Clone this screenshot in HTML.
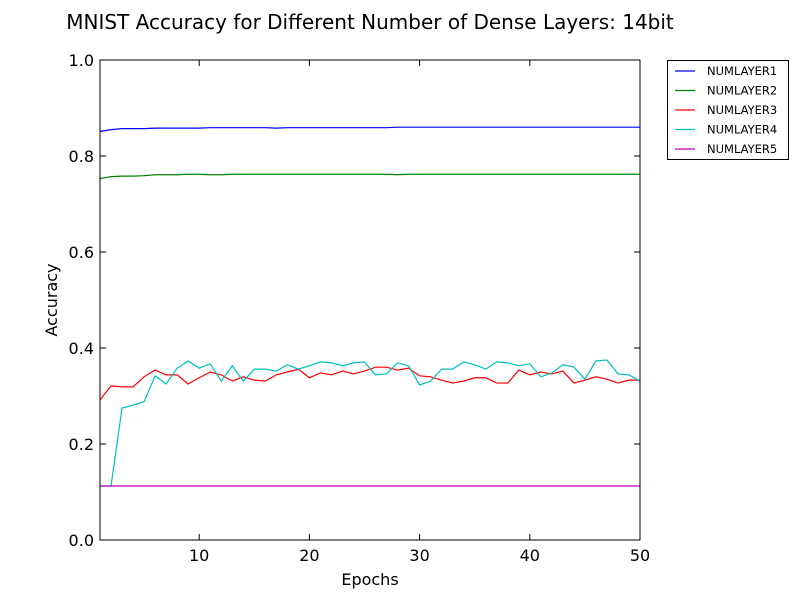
<!DOCTYPE html>
<html><head><meta charset="utf-8"><style>
body{margin:0;background:#fff;}
svg text{font-family:"DejaVu Sans","Liberation Sans",sans-serif;}
</style></head><body>
<svg id="c" width="800" height="600" viewBox="0 0 800 600">
<rect width="800" height="600" fill="#fff"/>
<text x="370" y="29" font-size="20" text-anchor="middle">MNIST Accuracy for Different Number of Dense Layers: 14bit</text>
<g id="plot"></g>
<text x="370" y="585" font-size="16" text-anchor="middle">Epochs</text>
<text x="57" y="300" font-size="16" text-anchor="middle" transform="rotate(-90 57 300)">Accuracy</text>
<g id="legend">
<rect x="667.5" y="60.5" width="121" height="99" fill="#fff" stroke="#000"/>
</g>
</svg>
<script>
const epochs = Array.from({length:50},(_,i)=>i+1);
const layer1 = [0.851,0.855,0.857,0.857,0.857,0.858,0.858,0.858,0.858,0.858,0.859,0.859,0.859,0.859,0.859,0.859,0.858,0.859,0.859,0.859,0.859,0.859,0.859,0.859,0.859,0.859,0.859,0.86,0.86,0.86,0.86,0.86,0.86,0.86,0.86,0.86,0.86,0.86,0.86,0.86,0.86,0.86,0.86,0.86,0.86,0.86,0.86,0.86,0.86,0.86];
const layer2 = [0.753,0.757,0.758,0.758,0.759,0.761,0.761,0.761,0.762,0.762,0.761,0.761,0.762,0.762,0.762,0.762,0.762,0.762,0.762,0.762,0.762,0.762,0.762,0.762,0.762,0.762,0.762,0.761,0.762,0.762,0.762,0.762,0.762,0.762,0.762,0.762,0.762,0.762,0.762,0.762,0.762,0.762,0.762,0.762,0.762,0.762,0.762,0.762,0.762,0.762];
const layer3 = [0.292,0.321,0.319,0.319,0.340,0.354,0.344,0.344,0.325,0.338,0.350,0.344,0.331,0.340,0.333,0.331,0.344,0.350,0.356,0.338,0.348,0.344,0.352,0.346,0.352,0.360,0.360,0.354,0.358,0.342,0.340,0.333,0.327,0.331,0.338,0.338,0.327,0.327,0.354,0.344,0.350,0.346,0.352,0.327,0.333,0.340,0.335,0.327,0.333,0.333];
const layer4 = [0.1125,0.1125,0.275,0.281,0.288,0.342,0.325,0.358,0.373,0.358,0.367,0.331,0.363,0.331,0.356,0.356,0.352,0.365,0.356,0.363,0.371,0.369,0.363,0.369,0.371,0.344,0.346,0.369,0.363,0.323,0.331,0.356,0.356,0.371,0.365,0.356,0.371,0.369,0.363,0.367,0.340,0.348,0.365,0.360,0.335,0.373,0.375,0.346,0.344,0.331];
const layer5 = Array(50).fill(0.1125);
const seriesNames = ["NUMLAYER1","NUMLAYER2","NUMLAYER3","NUMLAYER4","NUMLAYER5"];
const xTicks = [10,20,30,40,50];
const yTicks = [0.0,0.2,0.4,0.6,0.8,1.0];

const L=100,R=640,T=60,B=540;
const xs=e=>L+(e-1)/49*(R-L);
const ys=v=>B-v*(B-T);
const NS="http://www.w3.org/2000/svg";
const plot=document.getElementById('plot');
function mk(tag,attrs,parent){const el=document.createElementNS(NS,tag);for(const k in attrs)el.setAttribute(k,attrs[k]);(parent||plot).appendChild(el);return el;}
const colors=["#0000ff","#008000","#ff0000","#00bfbf","#bf00bf"];
const data=[layer1,layer2,layer3,layer4,layer5];
data.forEach((s,i)=>{
  const p=mk('polyline',{points:s.map((v,j)=>xs(epochs[j])+','+ys(v)).join(' '),fill:'none',stroke:colors[i],'stroke-width':1.2});
  
  
});
const frame=mk('rect',{x:L,y:T,width:R-L,height:B-T,fill:'none',stroke:'#000'});


xTicks.forEach(t=>{
  const x=xs(t);
  mk('line',{x1:x,x2:x,y1:B,y2:B-6,stroke:'#000'});
  mk('line',{x1:x,x2:x,y1:T,y2:T+6,stroke:'#000'});
  const tx=mk('text',{x:x,y:B+21,'font-size':16,'text-anchor':'middle'});
  tx.textContent=t;
  
  
});
yTicks.forEach(t=>{
  const y=ys(t);
  mk('line',{x1:L,x2:L+6,y1:y,y2:y,stroke:'#000'});
  mk('line',{x1:R,x2:R-6,y1:y,y2:y,stroke:'#000'});
  const tx=mk('text',{x:L-6,y:y+6,'font-size':16,'text-anchor':'end'});
  tx.textContent=t.toFixed(1);
  
  
});
const lg=document.getElementById('legend');
seriesNames.forEach((n,i)=>{
  const y=71+i*19.5;
  const g=mk('g',{},lg);
  
  
  mk('line',{x1:675,x2:695,y1:y,y2:y,stroke:colors[i],'stroke-width':1.2},g);
  const t=mk('text',{x:707,y:y+4,'font-size':11.5},g);
  t.textContent=n;
});
</script>
</body></html>
